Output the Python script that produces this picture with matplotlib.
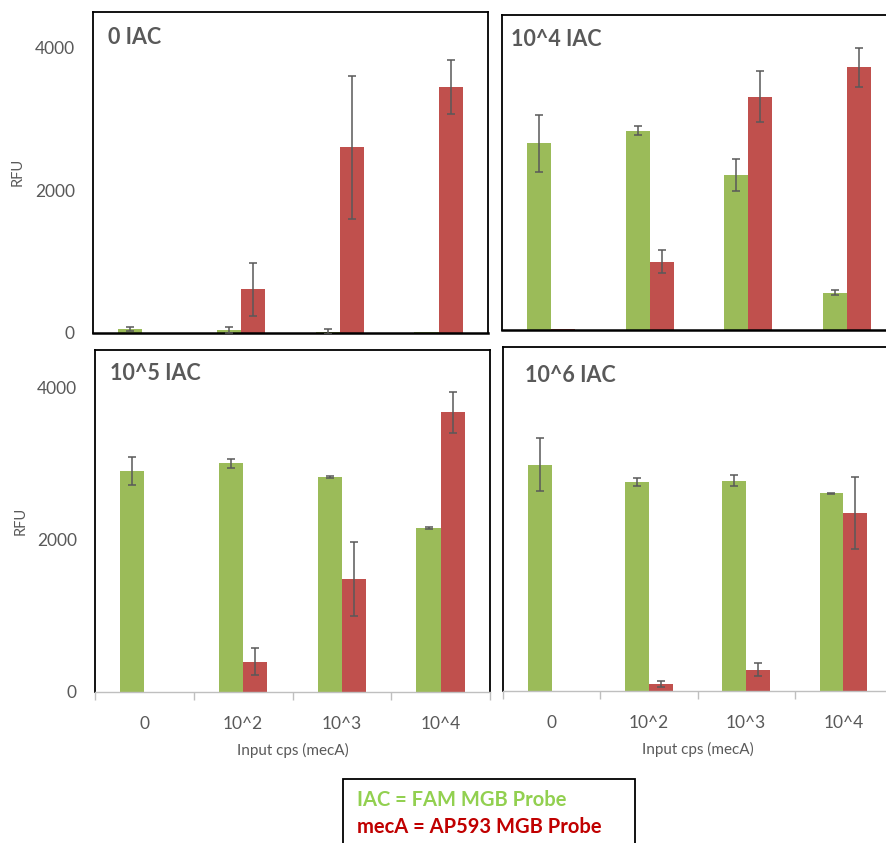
import numpy as np
import matplotlib
matplotlib.use("Agg")
import matplotlib.pyplot as plt
from matplotlib.patches import Rectangle

plt.rcParams['font.family'] = ['Lato', 'DejaVu Sans']

# Categories on the x axis (input copies of mecA)
categories = ["0", "10^2", "10^3", "10^4"]

# 0 IAC panel
iac_0 = [55, 42, 18, 10]
iac_0_err = [33, 40, 38, 0]
meca_0 = [5, 610, 2605, 3445]
meca_0_err = [0, 375, 1000, 380]

# 10^4 IAC panel
iac_4 = [2665, 2848, 2214, 533]
iac_4_err = [410, 60, 230, 36]
meca_4 = [10, 976, 3333, 3752]
meca_4_err = [0, 160, 365, 280]

# 10^5 IAC panel
iac_5 = [2905, 3010, 2826, 2157]
iac_5_err = [182, 62, 10, 10]
meca_5 = [0, 398, 1492, 3679]
meca_5_err = [0, 176, 488, 270]

# 10^6 IAC panel
iac_6 = [2962, 2735, 2752, 2585]
iac_6_err = [345, 50, 72, 8]
meca_6 = [0, 97, 281, 2328]
meca_6_err = [0, 40, 90, 470]

titles = ["0 IAC", "10^4 IAC", "10^5 IAC", "10^6 IAC"]

GREEN = '#9BBB59'
RED = '#C0504D'
GRAY = '#595959'

W, H = 886, 843
fig = plt.figure(figsize=(W / 100, H / 100), dpi=100, facecolor='white')


def px_axes(left, top, right, bottom):
    """Add axes using pixel coordinates measured from the top-left corner."""
    return fig.add_axes([left / W, 1 - bottom / H, (right - left) / W, (bottom - top) / H])


def add_errors(ax, xs, vals, errs):
    # skip points with no error bar (Excel draws nothing there)
    xs, vals, errs = np.asarray(xs), np.asarray(vals), np.asarray(errs)
    keep = errs > 0
    ax.errorbar(xs[keep], vals[keep], yerr=errs[keep], fmt='none', ecolor=GRAY,
                elinewidth=1.1, capsize=3.2, capthick=1.1, zorder=3)


def draw_panel(ax, iac, iac_err, meca, meca_err, title, show_y, show_x, title_xy):
    x = np.arange(len(categories))
    w = 0.245
    ax.bar(x - w / 2, iac, w, color=GREEN, zorder=2)
    ax.bar(x + w / 2, meca, w, color=RED, zorder=2)
    add_errors(ax, x - w / 2, iac, iac_err)
    add_errors(ax, x + w / 2, meca, meca_err)

    ax.set_xlim(-0.5, 3.5)
    ax.set_ylim(0, 4500)
    ax.set_yticks([0, 2000, 4000])

    for side in ['top', 'left', 'right']:
        ax.spines[side].set_color('black')
        ax.spines[side].set_linewidth(1.3)

    if show_x:
        ax.spines['bottom'].set_color('#BFBFBF')
        ax.spines['bottom'].set_linewidth(1.0)
        ax.set_xticks(x)
        ax.set_xticklabels(categories, fontsize=12.5, color=GRAY)
        ax.tick_params(axis='x', which='major', length=0, pad=17)
        ax.set_xticks(np.arange(-0.5, 4.0, 1.0), minor=True)
        ax.tick_params(axis='x', which='minor', length=6, color='#BFBFBF', width=1.0)
        ax.set_xlabel("Input cps (mecA)", fontsize=11, color=GRAY, labelpad=8)
    else:
        ax.spines['bottom'].set_color('black')
        ax.spines['bottom'].set_linewidth(1.8)
        ax.set_xticks([])

    if show_y:
        ax.tick_params(axis='y', length=0, pad=13, labelsize=12.5, labelcolor=GRAY)
    else:
        ax.set_yticks([])

    fig.text(title_xy[0] / W, 1 - title_xy[1] / H, title, fontsize=15.5, fontweight='bold',
             color=GRAY, ha='left', va='center')


ax1 = px_axes(93, 12, 488, 333)
draw_panel(ax1, iac_0, iac_0_err, meca_0, meca_0_err, titles[0], True, False, (108, 38))

ax2 = px_axes(502, 15, 896, 330)
draw_panel(ax2, iac_4, iac_4_err, meca_4, meca_4_err, titles[1], False, False, (511, 40))

ax3 = px_axes(95, 350, 490, 692)
draw_panel(ax3, iac_5, iac_5_err, meca_5, meca_5_err, titles[2], True, True, (110, 374))

ax4 = px_axes(503, 347, 892, 691)
draw_panel(ax4, iac_6, iac_6_err, meca_6, meca_6_err, titles[3], False, True, (525, 376))

# RFU labels
fig.text(18 / W, 1 - 172 / H, "RFU", rotation=90, fontsize=10.5, color=GRAY, ha='center', va='center')
fig.text(21 / W, 1 - 521 / H, "RFU", rotation=90, fontsize=10.5, color=GRAY, ha='center', va='center')

# Legend box
fig.patches.append(Rectangle((343 / W, -0.01), (635 - 343) / W, (1 - 779 / H) + 0.01,
                             transform=fig.transFigure, fill=False, edgecolor='black',
                             linewidth=1.3))
fig.text(357 / W, 1 - 800 / H, "IAC = FAM MGB Probe", fontsize=14.5, fontweight='bold',
         color='#92D050', ha='left', va='center')
fig.text(357 / W, 1 - 827 / H, "mecA = AP593 MGB Probe", fontsize=14.5, fontweight='bold',
         color='#C00000', ha='left', va='center')

fig.savefig("out.png", dpi=100, facecolor='white')
plt.close(fig)
